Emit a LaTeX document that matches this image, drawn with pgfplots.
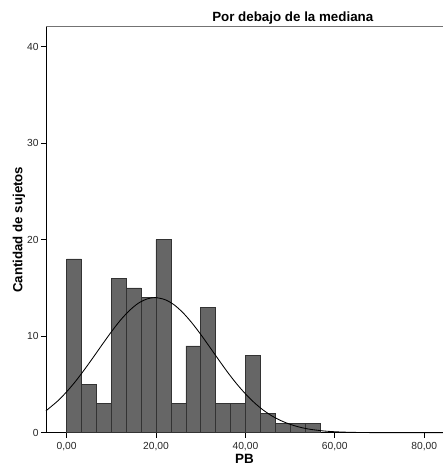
\documentclass[border=0pt]{standalone}
\usepackage{pgfplots}
\pgfplotsset{compat=1.18}
\usepackage{fontspec}
\setmainfont{Liberation Sans}
\begin{document}
\begin{tikzpicture}
\begin{axis}[
  name=ax,
  scale only axis,
  width=397bp, height=406bp,
  xmin=-4.6, xmax=84.2,
  ymin=0, ymax=42.07,
  axis x line*=bottom, axis y line*=left,
  axis line style={black, line width=0.8pt, -},
  tick align=outside,
  major tick length=5bp,
  tick style={black, line width=0.7pt},
  xtick={0,20,40,60,80},
  xticklabels={{0,00},{20,00},{40,00},{60,00},{80,00}},
  ytick={0,10,20,30,40},
  ticklabel style={font=\fontsize{10.3}{11}\selectfont, text=black!85},
  xticklabel style={yshift=-1bp},
  yticklabel style={xshift=1bp},
  /pgf/number format/assume math mode=true,
  xlabel={\textbf{PB}},
  ylabel={\textbf{Cantidad de sujetos}},
  xlabel style={font=\fontsize{13.5}{14}\selectfont, yshift=3bp},
  ylabel style={font=\fontsize{13.3}{14}\selectfont, yshift=-5bp},
  clip=false,
]
\addplot[ybar interval, fill=black!60, draw=black!80, line width=0.5pt] coordinates {
(0,18) (3.3333,5) (6.6667,3) (10,16) (13.3333,15) (16.6667,14) (20,20)
(23.3333,3) (26.6667,9) (30,13) (33.3333,3) (36.6667,3) (40,8)
(43.3333,2) (46.6667,1) (50,1) (53.3333,1) (56.6667,1)
};
\addplot[black, line width=0.85pt, smooth] coordinates {
(-4.6,2.27) (-2,3.28) (0,4.23) (2,5.32) (4,6.54) (6,7.83) (8,9.15) (10,10.44)
(12,11.63) (14,12.63) (16,13.40) (18,13.86) (19.8,14.0) (22,13.79) (24,13.27)
(26,12.45) (28,11.40) (30,10.19) (32,8.89) (34,7.57) (36,6.28) (38,5.09)
(40,4.03) (42,3.11) (44,2.34) (46,1.72) (48,1.24) (50,0.87) (52,0.59)
(54,0.39) (56,0.26) (58,0.16) (60,0.10) (62,0.06) (64,0.036) (66,0.02)
(70,0.006) (75,0.001) (84.2,0)
};
\draw[black!55, line width=0.9pt] (axis cs:-4.6,42.07) -- (axis cs:84.2,42.07);
\node[font=\bfseries\fontsize{13.4}{14}\selectfont, anchor=base] at ([yshift=5.5bp]axis cs:50.6,42.07) {Por debajo de la mediana};
\end{axis}
\pgfresetboundingbox
\path[use as bounding box] ([xshift=-46bp,yshift=-37.3bp]ax.south west) rectangle ([yshift=26.7bp]ax.north east);
\end{tikzpicture}
\end{document}
